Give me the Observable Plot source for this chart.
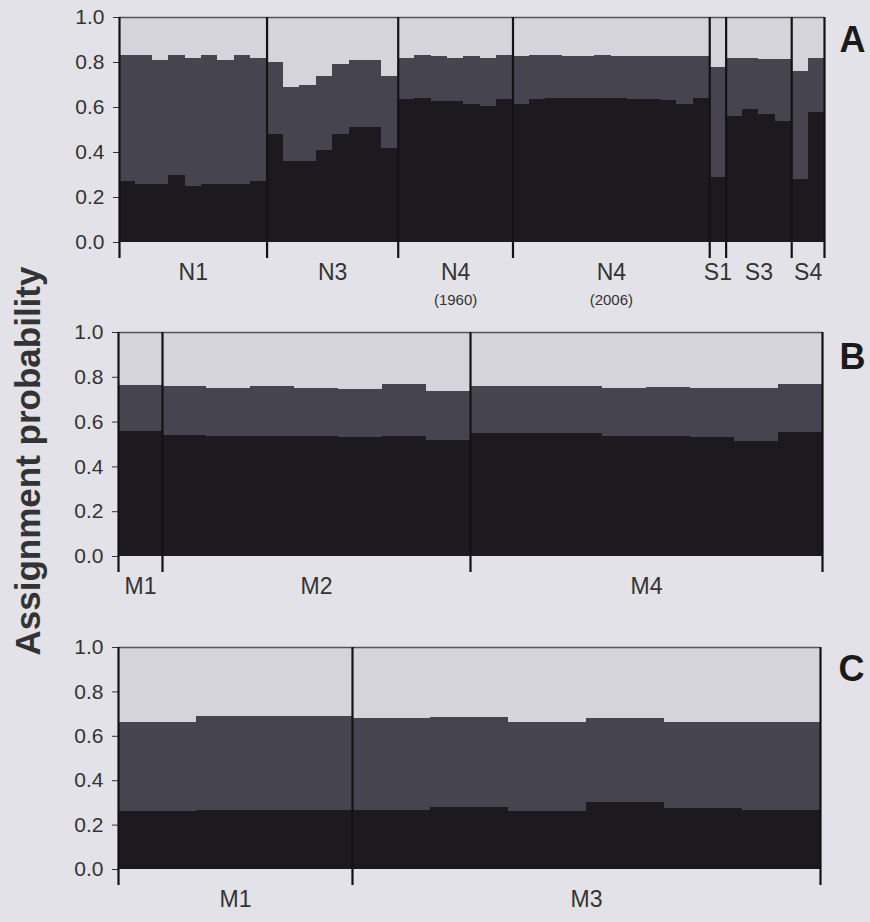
<!DOCTYPE html>
<html>
<head>
<meta charset="utf-8">
<script src="https://cdn.jsdelivr.net/npm/d3@7"></script>
<script src="https://cdn.jsdelivr.net/npm/@observablehq/plot@0.6"></script>
<style>
  html, body { margin: 0; padding: 0; background: #e3e2e8; }
  #wrap { position: relative; width: 870px; height: 922px; background: #e3e2e8; overflow: hidden; font-family: "Liberation Sans", Arial, sans-serif; }
  #wrap svg { position: absolute; left: 0; }
  #ytitle { position: absolute; left: 28px; top: 461px; transform: translate(-50%, -50%) rotate(-90deg); font-weight: bold; font-size: 35px; color: #333; white-space: nowrap; }
</style>
</head>
<body>
<div id="wrap"><div id="ytitle">Assignment probability</div></div>
<script>
// ---- Panel A ----
const aGroups = ["N1", "N3", "N4", "N4", "S1", "S3", "S4"];
const aSubLabels = ["", "", "(1960)", "(2006)", "", "", ""];
const aSizes = [9, 8, 7, 12, 1, 4, 2];
const aCluster1 = [
  0.27, 0.26, 0.26, 0.30, 0.25, 0.26, 0.26, 0.26, 0.27,
  0.48, 0.36, 0.36, 0.41, 0.48, 0.51, 0.51, 0.42,
  0.635, 0.64, 0.625, 0.625, 0.615, 0.605, 0.635,
  0.615, 0.635, 0.64, 0.64, 0.64, 0.64, 0.64, 0.635, 0.635, 0.63, 0.615, 0.64,
  0.29,
  0.56, 0.59, 0.57, 0.54,
  0.28, 0.58
];
const aCluster2 = [
  0.56, 0.57, 0.55, 0.53, 0.57, 0.57, 0.55, 0.57, 0.55,
  0.32, 0.33, 0.34, 0.33, 0.31, 0.30, 0.30, 0.32,
  0.185, 0.19, 0.20, 0.195, 0.21, 0.215, 0.195,
  0.21, 0.195, 0.19, 0.188, 0.186, 0.19, 0.188, 0.191, 0.193, 0.196, 0.21, 0.188,
  0.49,
  0.26, 0.23, 0.245, 0.275,
  0.48, 0.24
];

// ---- Panel B ----
const bGroups = ["M1", "M2", "M4"];
const bSubLabels = ["", "", ""];
const bSizes = [1, 7, 8];
const bCluster1 = [0.56, 0.54, 0.535, 0.535, 0.535, 0.53, 0.535, 0.52, 0.55, 0.55, 0.55, 0.535, 0.535, 0.532, 0.513, 0.554];
const bCluster2 = [0.205, 0.217, 0.213, 0.225, 0.216, 0.215, 0.232, 0.218, 0.211, 0.211, 0.211, 0.215, 0.22, 0.218, 0.237, 0.214];

// ---- Panel C ----
const cGroups = ["M1", "M3"];
const cSubLabels = ["", ""];
const cSizes = [3, 6];
const cCluster1 = [0.263, 0.266, 0.266, 0.266, 0.281, 0.261, 0.303, 0.276, 0.266];
const cCluster2 = [0.40, 0.424, 0.423, 0.412, 0.403, 0.403, 0.376, 0.385, 0.398];

const yTicks = [0, 0.2, 0.4, 0.6, 0.8, 1.0];
const clusters = ["K1", "K2", "K3"];
const clusterColors = ["#1c1a1f", "#46444e", "#d5d4da"];

function panel({groups, subs, sizes, c1, c2, letter, top, height, mt, mb, ml, mr, ldx, ldy}) {
  const n = c1.length;
  const rows = [];
  for (let i = 0; i < n; i++) {
    const v = [c1[i], c2[i], 1 - c1[i] - c2[i]];
    let acc = 0;
    v.forEach((val, k) => {
      rows.push({x1: i, x2: i + 1, y1: acc, y2: acc + val, cluster: clusters[k]});
      acc += val;
    });
  }
  const bounds = [0];
  const groupRows = [];
  let s = 0;
  sizes.forEach((sz, g) => {
    groupRows.push({center: s + sz / 2, name: groups[g], sub: subs[g]});
    s += sz;
    bounds.push(s);
  });
  const svg = Plot.plot({
    width: 870,
    height,
    marginTop: mt,
    marginBottom: mb,
    marginLeft: ml,
    marginRight: mr,
    style: {background: "transparent", fontFamily: "'Liberation Sans', Arial, sans-serif", fontSize: "21px", color: "#333", overflow: "visible"},
    x: {domain: [0, n], axis: null},
    y: {domain: [0, 1], ticks: yTicks, tickFormat: d3.format(".1f"), tickSize: 6, tickPadding: 9, label: null},
    color: {domain: clusters, range: clusterColors},
    marks: [
      Plot.rect(rows, {x1: "x1", x2: "x2", y1: "y1", y2: "y2", fill: "cluster", shapeRendering: "crispEdges"}),
      Plot.ruleY([1], {stroke: "#555", strokeWidth: 1.5}),
      Plot.ruleX(bounds, {stroke: "#141214", strokeWidth: 2.2, insetBottom: -16}),
      Plot.text(groupRows, {x: "center", text: "name", frameAnchor: "bottom", dy: 37, fontSize: 23, fill: "#333"}),
      Plot.text(groupRows, {x: "center", text: "sub", frameAnchor: "bottom", dy: 62, fontSize: 15, fill: "#333"}),
      Plot.text([letter], {frameAnchor: "top-right", textAnchor: "middle", lineAnchor: "middle", dx: ldx, dy: ldy, fontSize: 36, fontWeight: "bold", fill: "#1a1a1a"})
    ]
  });
  svg.style.top = top + "px";
  document.getElementById("wrap").appendChild(svg);
}

panel({groups: aGroups, subs: aSubLabels, sizes: aSizes, c1: aCluster1, c2: aCluster2, letter: "A",
  top: 0, height: 320, mt: 17, mb: 78, ml: 119, mr: 46, ldx: 28, ldy: 23});
panel({groups: bGroups, subs: bSubLabels, sizes: bSizes, c1: bCluster1, c2: bCluster2, letter: "B",
  top: 310, height: 305, mt: 22, mb: 59, ml: 118, mr: 48, ldx: 30, ldy: 25});
panel({groups: cGroups, subs: cSubLabels, sizes: cSizes, c1: cCluster1, c2: cCluster2, letter: "C",
  top: 615, height: 307, mt: 32, mb: 53, ml: 118, mr: 50, ldx: 31, ldy: 22});
</script>
</body>
</html>
